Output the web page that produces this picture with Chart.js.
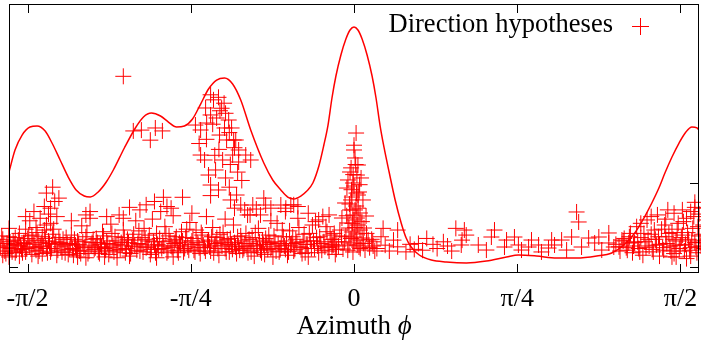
<!DOCTYPE html>
<html>
<head>
<meta charset="utf-8">
<script src="https://cdn.jsdelivr.net/npm/chart.js@4.4.1/dist/chart.umd.min.js"></script>
<style>
  html, body { margin: 0; padding: 0; background: #fff; overflow: hidden; }
  #wrap { width: 701px; height: 341px; }
  canvas { display: block; }
</style>
</head>
<body>
<div id="wrap"><canvas id="grafico"></canvas></div>
<script>
// ejes
const xTicks = [-Math.PI / 2, -Math.PI / 4, 0, Math.PI / 4, Math.PI / 2];
const xTickLabels = ["-π/2", "-π/4", "0", "π/4", "π/2"];
const yTicksLeft = [0];
const yTicksRight = [0, 1];

// curva (densidad)
const curveX = [-1.660, -1.631, -1.597, -1.559, -1.525, -1.486, -1.453, -1.414, -1.375, -1.337, -1.298, -1.269,
  -1.231, -1.192, -1.158, -1.105, -1.052, -1.013, -0.975, -0.931, -0.893, -0.854, -0.816, -0.777, -0.738, -0.700,
  -0.661, -0.623, -0.584, -0.545, -0.497, -0.434, -0.391, -0.352, -0.319, -0.290, -0.256, -0.227, -0.198, -0.169,
  -0.145, -0.125, -0.106, -0.087, -0.063, -0.039, -0.019, 0.000, 0.019, 0.039, 0.063, 0.087, 0.106, 0.125, 0.145,
  0.169, 0.198, 0.227, 0.251, 0.275, 0.314, 0.372, 0.444, 0.541, 0.637, 0.734, 0.791, 0.878, 0.975, 1.071, 1.168,
  1.240, 1.298, 1.351, 1.395, 1.433, 1.467, 1.496, 1.530, 1.564, 1.597, 1.626, 1.650, 1.670];
const curveY = [1.131, 1.393, 1.571, 1.667, 1.679, 1.619, 1.476, 1.274, 1.071, 0.917, 0.845, 0.833,
  0.893, 1.012, 1.155, 1.417, 1.655, 1.786, 1.833, 1.798, 1.726, 1.667, 1.679, 1.762, 1.940, 2.119,
  2.226, 2.250, 2.179, 1.988, 1.631, 1.238, 1.036, 0.917, 0.833, 0.810, 0.845, 0.905, 1.000, 1.202,
  1.452, 1.690, 2.012, 2.274, 2.524, 2.714, 2.821, 2.857, 2.821, 2.714, 2.524, 2.274, 2.012, 1.690, 1.417,
  1.131, 0.798, 0.524, 0.345, 0.238, 0.143, 0.083, 0.060, 0.048, 0.071, 0.119, 0.143, 0.131, 0.107, 0.107, 0.131,
  0.167, 0.262, 0.405, 0.583, 0.762, 0.940, 1.119, 1.310, 1.476, 1.607, 1.667, 1.655, 1.595];

// hipotesis de direccion [azimut, valor]
const hypBandLeft = [
  [-1.71,0.30],[-1.70,0.24],[-1.69,0.33],[-1.68,0.19],[-1.67,0.28],[-1.66,0.36],[-1.65,0.22],[-1.64,0.31],
  [-1.63,0.17],[-1.62,0.26],[-1.61,0.40],[-1.60,0.21],[-1.69,0.14],[-1.66,0.12],[-1.63,0.35],[-1.61,0.13],
  [-1.59,0.29],[-1.58,0.45],[-1.58,0.18],[-1.57,0.34],[-1.56,0.24],[-1.56,0.55],[-1.55,0.15],[-1.55,0.38],
  [-1.54,0.27],[-1.54,0.66],[-1.53,0.20],[-1.53,0.47],[-1.52,0.32],[-1.52,0.13],
  [-1.51,0.25],[-1.51,0.58],[-1.50,0.36],[-1.50,0.16],[-1.49,0.72],[-1.49,0.44],[-1.48,0.22],[-1.48,0.88],
  [-1.47,0.31],[-1.47,0.63],[-1.46,0.52],[-1.46,0.18],[-1.45,0.95],[-1.45,0.39],[-1.44,0.78],[-1.44,0.27],
  [-1.43,0.60],[-1.43,0.14],[-1.42,0.35],[-1.42,0.82],[-1.46,0.70],[-1.48,0.50],
  [-1.41,0.24],[-1.40,0.33],[-1.39,0.17],[-1.38,0.28],[-1.37,0.21],[-1.36,0.38],[-1.35,0.14],[-1.34,0.26],
  [-1.33,0.31],[-1.32,0.19],[-1.31,0.49],[-1.30,0.23],[-1.29,0.36],[-1.28,0.16],[-1.27,0.58],[-1.26,0.29],
  [-1.25,0.21],[-1.33,0.12],[-1.29,0.11],[-1.29,0.62],[-1.27,0.66],
  [-1.24,0.34],[-1.23,0.18],[-1.22,0.27],[-1.21,0.42],[-1.20,0.22],[-1.19,0.31],[-1.18,0.15],[-1.17,0.51],
  [-1.16,0.25],[-1.15,0.36],[-1.14,0.20],[-1.13,0.62],[-1.12,0.29],[-1.11,0.44],[-1.10,0.17],[-1.09,0.33],
  [-1.08,0.71],[-1.07,0.24],[-1.06,0.39],[-1.05,0.55],[-1.20,0.12],[-1.14,0.11],[-1.08,0.13],[-1.11,0.58],
  [-1.04,0.28],[-1.03,0.19],[-1.02,0.35],[-1.01,0.46],[-1.00,0.23],[-0.99,0.31],[-0.98,0.15],[-0.97,0.57],
  [-0.96,0.26],[-0.95,0.40],[-0.94,0.21],[-0.93,0.66],[-0.92,0.30],[-0.91,0.48],[-0.90,0.17],[-0.89,0.37],
  [-0.88,0.25],[-0.87,0.61],[-0.86,0.33],[-0.85,0.20],[-1.00,0.74],[-0.96,0.78],[-0.90,0.72],[-0.87,0.12],
  [-0.95,0.11],[-0.917,0.83],[-0.825,0.83],
  [-0.84,0.29],[-0.83,0.42],[-0.82,0.18],[-0.81,0.35],[-0.80,0.24],[-0.79,0.53],[-0.78,0.31],[-0.77,0.20],
  [-0.76,0.44],[-0.75,0.27],[-0.74,0.16],[-0.73,0.38],[-0.72,0.23],[-0.71,0.60],[-0.70,0.32],[-0.69,0.19],
  [-0.68,0.47],[-0.67,0.26],[-0.66,0.35],[-0.65,0.14],[-0.64,0.29],[-0.63,0.41],[-0.62,0.22],[-0.61,0.33],
  [-0.60,0.18],[-0.59,0.27],[-0.58,0.50],[-0.57,0.24],[-0.56,0.36],[-0.55,0.20],
  [-0.54,0.31],[-0.53,0.22],[-0.52,0.40],[-0.51,0.17],[-0.50,0.28],[-0.49,0.35],[-0.48,0.13],[-0.47,0.25],
  [-0.46,0.46],[-0.45,0.20],[-0.44,0.32],[-0.43,0.15],[-0.42,0.27],[-0.41,0.38],[-0.40,0.22],[-0.39,0.12],
  [-0.38,0.30],[-0.37,0.52],[-0.36,0.18],[-0.35,0.26],[-0.34,0.36],[-0.33,0.21],[-0.32,0.14],[-0.31,0.43],
  [-0.30,0.28],[-0.29,0.19],[-0.28,0.33],[-0.27,0.58],[-0.26,0.24],[-0.25,0.16],[-0.24,0.39],[-0.23,0.27],
  [-0.22,0.12],[-0.21,0.31],[-0.20,0.50],[-0.19,0.22],[-0.18,0.35],[-0.17,0.17],[-0.16,0.28],[-0.15,0.60],
  [-0.14,0.24],[-0.13,0.42],[-0.12,0.19],[-0.11,0.33],[-0.10,0.26],[-0.09,0.15]
];
const hypBandLeft2 = [
  [-1.705,0.21],[-1.695,0.37],[-1.685,0.26],[-1.675,0.16],[-1.665,0.23],[-1.655,0.30],[-1.645,0.18],[-1.635,0.27],
  [-1.625,0.20],[-1.615,0.32],[-1.605,0.25],[-1.595,0.17],[-1.585,0.28],[-1.575,0.22],[-1.565,0.37],[-1.545,0.31],
  [-1.535,0.23],[-1.525,0.41],[-1.515,0.19],[-1.505,0.29],[-1.495,0.24],[-1.485,0.34],[-1.475,0.17],[-1.465,0.28],
  [-1.455,0.22],[-1.445,0.45],[-1.435,0.30],[-1.425,0.20],[-1.415,0.29],[-1.405,0.18],[-1.395,0.26],[-1.385,0.35],
  [-1.375,0.15],[-1.365,0.27],[-1.355,0.22],[-1.345,0.33],[-1.335,0.20],[-1.325,0.27],[-1.315,0.16],[-1.305,0.30],
  [-1.295,0.24],[-1.285,0.41],[-1.275,0.19],[-1.265,0.26],[-1.255,0.33],[-1.245,0.23],[-1.235,0.29],[-1.225,0.16],
  [-1.215,0.24],[-1.205,0.37],[-1.195,0.20],[-1.185,0.28],[-1.175,0.23],[-1.165,0.40],[-1.155,0.18],[-1.145,0.27],
  [-1.135,0.31],[-1.125,0.21],[-1.115,0.26],[-1.105,0.35],[-1.095,0.22],[-1.085,0.29],[-1.075,0.16],[-1.065,0.32],
  [-1.055,0.25],[-1.045,0.20],[-1.035,0.43],[-1.025,0.27],[-1.015,0.18],[-1.005,0.33],[-0.995,0.24],[-0.985,0.38],
  [-0.975,0.21],[-0.965,0.30],[-0.955,0.17],[-0.945,0.27],[-0.935,0.34],[-0.925,0.22],[-0.915,0.25],[-0.905,0.40],
  [-0.895,0.19],[-0.885,0.31],[-0.875,0.23],[-0.865,0.28],[-0.855,0.36],[-0.845,0.17],[-0.835,0.26],[-0.825,0.31],
  [-0.815,0.22],[-0.805,0.45],[-0.795,0.20],[-0.785,0.27],[-0.775,0.34],[-0.765,0.18],[-0.755,0.29],[-0.745,0.23],
  [-0.735,0.41],[-0.725,0.26],[-0.715,0.19],[-0.705,0.30],[-0.695,0.24],[-0.685,0.36],[-0.675,0.17],[-0.665,0.28],
  [-0.655,0.22],[-0.645,0.39],[-0.635,0.25],[-0.625,0.31],[-0.615,0.18],[-0.605,0.27],[-0.595,0.34],[-0.585,0.21],
  [-0.575,0.29],[-0.565,0.16],[-0.555,0.25],[-0.545,0.37],[-0.535,0.20],[-0.525,0.28],[-0.515,0.24],[-0.505,0.33],
  [-0.495,0.18],[-0.485,0.26],[-0.475,0.41],[-0.465,0.22],[-0.455,0.30],[-0.445,0.17],[-0.435,0.27],[-0.425,0.34],
  [-0.415,0.21],[-0.405,0.29],[-0.395,0.24],[-0.385,0.37],[-0.375,0.19],[-0.365,0.28],[-0.355,0.22],[-0.345,0.44],
  [-0.335,0.25],[-0.325,0.31],[-0.315,0.18],[-0.305,0.26],[-0.295,0.36],[-0.285,0.21],[-0.275,0.29],[-0.265,0.47],
  [-0.255,0.23],[-0.245,0.30],[-0.235,0.17],[-0.225,0.27],[-0.215,0.40],[-0.205,0.22],[-0.195,0.31],[-0.185,0.54],
  [-0.175,0.25],[-0.165,0.36],[-0.155,0.20],[-0.145,0.30],[-0.135,0.48],[-0.125,0.23],[-0.115,0.38],[-0.105,0.27],
  [-0.095,0.33],[-0.085,0.21],
  [-1.19,0.60],[-1.03,0.68],[-0.88,0.70],[-0.78,0.64],[-0.62,0.57],[-0.45,0.62],[-0.40,0.55],[-0.33,0.66],
  [-0.22,0.64],[-0.17,0.56],[-0.12,0.62],[-1.36,0.55],[-1.58,0.60],[-1.66,0.46]
];
const hypUpper = [
  [-1.11,2.27],[-1.062,1.62],[-1.023,1.63],[-0.980,1.51],[-0.956,1.655],[-0.922,1.62],
  [-0.676,1.99],[-0.652,2.02],[-0.637,1.89],[-0.618,1.83],[-0.603,1.75],[-0.589,1.655],[-0.623,1.655],
  [-0.661,1.774],[-0.690,1.81],[-0.709,1.714],[-0.647,1.571],[-0.613,1.512],[-0.579,1.512],[-0.555,1.393],
  [-0.521,1.333],[-0.584,1.333],[-0.632,1.274],[-0.666,1.155],[-0.690,0.976],[-0.719,1.274],[-0.738,1.333],
  [-0.700,1.095],[-0.652,0.917],[-0.618,1.060],[-0.594,0.798],[-0.545,0.738],[-0.526,0.679],[-0.565,0.857],
  [-0.512,0.619],[-0.487,0.738],[-0.425,0.738],[-0.352,0.738],[-0.304,0.738],[-0.738,1.631],[-0.763,1.69],
  [-0.714,1.893],[-0.569,1.512],[-0.497,1.274],[-0.555,1.25],[-0.434,0.82],[-0.328,0.70],[-0.290,0.74],
  [-0.68,1.70],[-0.645,1.86],[-0.625,1.95],[-0.60,1.60],[-0.575,1.42],[-0.595,1.22],[-0.56,1.13],[-0.54,1.03],
  [-0.65,1.40],[-0.67,1.33],[-0.71,1.52],[-0.60,0.95],[-0.575,0.70],[-0.50,0.62],[-0.47,0.69],[-0.40,0.70],
  [-0.27,0.72],[-0.69,0.85],[-0.745,1.47],[-0.69,2.05]
];
const hypCenter = [
  [0.01,1.595],[0.00,1.393],[0.019,1.214],[-0.019,1.131],[0.034,1.06],[-0.005,1.00],[-0.034,0.94],[0.024,0.893],
  [-0.01,0.833],[0.043,0.798],[-0.043,0.762],[0.01,0.726],[-0.019,0.679],[0.029,0.643],[0.058,0.607],
  [-0.058,0.583],[0.00,0.56],[-0.029,0.524],[0.019,0.50],[0.048,0.464],[-0.068,0.44],[-0.01,0.417],
  [0.014,0.393],[-0.039,0.369],[0.039,0.345],[0.068,0.321],[-0.087,0.298],[0.00,0.286],[-0.024,0.262],
  [0.024,0.238],[-0.053,0.214],[0.053,0.202],[-0.005,0.179],[0.092,0.25],[-0.106,0.238],
  [0.005,1.298],[-0.014,1.18],[0.014,1.095],[-0.029,1.036],[0.00,0.964],[0.019,0.857],[-0.014,0.798],
  [0.005,0.679],[-0.005,0.619],[0.014,0.583],[-0.024,0.464],[0.029,0.44],[0.00,0.357],[0.01,0.321],
  [-0.045,0.30],[0.045,0.28],[-0.03,0.20],[0.03,0.22],[-0.015,0.34],[0.015,0.26],[-0.06,0.36],[0.06,0.40],
  [-0.075,0.25],[0.075,0.23],[0.005,0.47],[-0.008,0.52],[0.02,0.70],[-0.022,0.75],[0.012,0.88],[-0.004,1.10],
  [0.008,1.22],[-0.012,0.92],[0.027,0.98],[0.00,1.45],[-0.035,0.61],[0.038,0.54],[0.085,0.33],[-0.095,0.40],
  [0.10,0.19]
];
const hypBandRight = [
  [0.09,0.30],[0.11,0.22],[0.13,0.36],[0.15,0.26],[0.17,0.19],[0.19,0.32],[0.21,0.24],[0.14,0.46],[0.21,0.44],
  [0.31,0.28],[0.33,0.20],[0.35,0.34],[0.49,0.46],[0.52,0.32],[0.54,0.38],[0.45,0.25],[0.47,0.19],[0.43,0.30],
  [0.40,0.22],[0.38,0.27],[0.25,0.18],[0.27,0.27],[0.29,0.21],
  [0.531,0.44],[0.516,0.262],[0.598,0.262],[0.676,0.44],[0.661,0.357],[0.724,0.238],[0.772,0.357],[0.791,0.262],
  [0.840,0.238],[0.888,0.262],[0.951,0.321],[0.965,0.262],[0.936,0.226],[0.999,0.321],[1.071,0.655],[1.081,0.536],
  [1.047,0.357],[1.129,0.345],[1.158,0.286],[1.178,0.357],[1.226,0.286],[1.226,0.405],[1.322,0.286],
  [0.637,0.202],[0.806,0.202],[0.902,0.179],[1.023,0.202],[0.854,0.321],[0.734,0.321],[1.095,0.238],
  [1.192,0.202],[1.250,0.238],[1.289,0.321],
  [1.26,0.27],[1.28,0.19],[1.30,0.34],[1.31,0.23],[1.33,0.40],[1.34,0.17],[1.35,0.29],[1.36,0.48],[1.37,0.22],
  [1.38,0.35],[1.39,0.14],[1.40,0.30],[1.41,0.56],[1.42,0.25],[1.43,0.39],[1.44,0.18],[1.45,0.33],[1.46,0.62],
  [1.47,0.27],[1.48,0.45],[1.49,0.20],[1.50,0.36],[1.51,0.68],[1.52,0.24],[1.53,0.41],[1.54,0.16],[1.55,0.31],
  [1.56,0.52],[1.57,0.26],[1.58,0.38],[1.59,0.19],[1.60,0.58],[1.61,0.33],[1.62,0.23],[1.63,0.46],[1.64,0.71],
  [1.64,0.29],[1.65,0.17],[1.66,0.37],[1.67,0.25],[1.68,0.50],[1.69,0.32],[1.70,0.21],[1.71,0.40],[1.47,0.13],
  [1.55,0.12],[1.62,0.13],[1.38,0.52],[1.43,0.60],[1.58,0.68],[1.64,0.77],[1.54,0.64],[1.66,0.63],[1.53,0.12],
  [1.60,0.10],
  [1.275,0.24],[1.295,0.31],[1.315,0.20],[1.325,0.36],[1.345,0.25],[1.365,0.30],[1.375,0.18],[1.395,0.40],
  [1.405,0.23],[1.415,0.33],[1.435,0.21],[1.445,0.44],[1.455,0.26],[1.465,0.36],[1.485,0.23],[1.495,0.50],
  [1.505,0.28],[1.515,0.40],[1.525,0.19],[1.535,0.33],[1.545,0.26],[1.555,0.45],[1.565,0.22],[1.575,0.35],
  [1.585,0.54],[1.595,0.27],[1.605,0.41],[1.615,0.20],[1.625,0.31],[1.635,0.60],[1.645,0.24],[1.655,0.48],
  [1.665,0.29],[1.675,0.39],[1.685,0.22],[1.695,0.56],[1.705,0.30],[1.62,0.66],[1.50,0.57],[1.68,0.70]
];

const hypotheses = [...hypBandLeft, ...hypUpper, ...hypBandLeft2, ...hypCenter, ...hypBandRight];
const serif = '"Liberation Serif", "Times New Roman", serif';
const red = "#ff0000";

const marco = {
  id: "marco",
  afterDraw(chart) {
    const ctx = chart.ctx;
    const a = chart.chartArea;
    const xs = chart.scales.x, ys = chart.scales.y;
    ctx.save();
    ctx.strokeStyle = "#000";
    ctx.lineWidth = 1;
    ctx.beginPath();
    xTicks.forEach(v => {
      const px = Math.round(xs.getPixelForValue(v)) + 0.5;
      ctx.moveTo(px, a.bottom); ctx.lineTo(px, a.bottom - 9);
      ctx.moveTo(px, a.top); ctx.lineTo(px, a.top + 9);
    });
    yTicksLeft.forEach(v => {
      const py = Math.round(ys.getPixelForValue(v)) + 0.5;
      ctx.moveTo(a.left, py); ctx.lineTo(a.left + 9, py);
    });
    yTicksRight.forEach(v => {
      const py = Math.round(ys.getPixelForValue(v)) + 0.5;
      ctx.moveTo(a.right, py); ctx.lineTo(a.right - 9, py);
    });
    ctx.stroke();
    ctx.strokeRect(Math.round(a.left) + 0.5, Math.round(a.top) + 0.5,
      Math.round(a.right - a.left) - 1, Math.round(a.bottom - a.top) - 1);

    // etiquetas del eje x
    ctx.fillStyle = "#000";
    ctx.font = "26px " + serif;
    ctx.textAlign = "center";
    ctx.textBaseline = "alphabetic";
    xTicks.forEach((v, i) => ctx.fillText(xTickLabels[i], xs.getPixelForValue(v), 306));

    // leyenda
    ctx.font = "26.5px " + serif;
    ctx.textAlign = "right";
    ctx.fillText("Direction hypotheses", 613, 32);
    ctx.strokeStyle = red;
    ctx.beginPath();
    ctx.moveTo(632, 26.5); ctx.lineTo(649, 26.5);
    ctx.moveTo(640.5, 18); ctx.lineTo(640.5, 35);
    ctx.stroke();

    // titulo del eje x
    ctx.textAlign = "left";
    const f1 = "27px " + serif, f2 = "italic 27px " + serif;
    ctx.font = f1;
    const w1 = ctx.measureText("Azimuth ").width;
    ctx.font = f2;
    const w2 = ctx.measureText("ϕ").width;
    const x0 = xs.getPixelForValue(0) - (w1 + w2) / 2;
    ctx.font = f1;
    ctx.fillText("Azimuth ", x0, 334);
    ctx.font = f2;
    ctx.fillText("ϕ", x0 + w1, 334);
    ctx.restore();
  }
};

new Chart(document.getElementById("grafico"), {
  type: "scatter",
  data: {
    datasets: [{
      label: "Direction hypotheses",
      data: hypotheses.map(p => ({ x: p[0], y: p[1] })),
      pointStyle: "cross",
      pointRadius: 8,
      pointBorderWidth: 1,
      borderColor: red,
      pointBorderColor: red,
      pointBackgroundColor: red,
      backgroundColor: red,
      clip: false
    }, {
      label: "density",
      type: "line",
      data: curveX.map((x, i) => ({ x: x, y: curveY[i] })),
      borderColor: red,
      borderWidth: 1.5,
      pointRadius: 0,
      cubicInterpolationMode: "monotone",
      fill: false
    }]
  },
  options: {
    responsive: true,
    maintainAspectRatio: false,
    animation: false,
    layout: { autoPadding: false, padding: { left: 9, right: 2, top: 4, bottom: 68 } },
    plugins: { legend: { display: false }, tooltip: { enabled: false } },
    scales: {
      x: {
        type: "linear",
        min: -1.66, max: 1.66,
        display: false
      },
      y: {
        type: "linear",
        min: -0.0714, max: 3.131,
        display: false
      }
    }
  },
  plugins: [marco]
});
</script>
</body>
</html>
